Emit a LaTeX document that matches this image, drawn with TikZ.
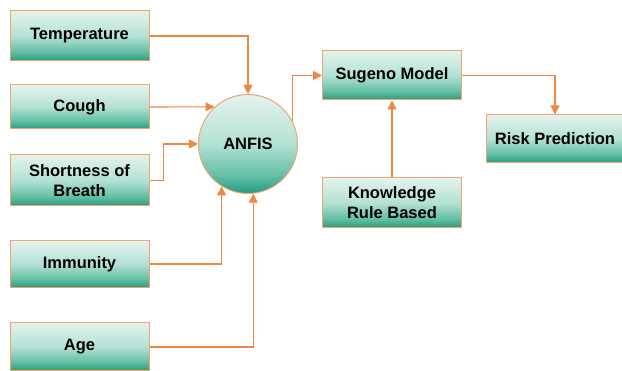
\documentclass[tikz,border=0pt]{standalone}
\usepackage{fontspec}
\setmainfont{Liberation Sans}
\usetikzlibrary{arrows.meta, positioning}

\definecolor{boxedge}{HTML}{F2A470}
\definecolor{flowor}{HTML}{EE8743}
\definecolor{mintL}{HTML}{E4F3EF}
\definecolor{mintM}{HTML}{B3E1D4}
\definecolor{tealM}{HTML}{62BEA5}
\definecolor{tealD}{HTML}{229C7E}
\pgfdeclareverticalshading{mintshade}{100bp}{color(0bp)=(tealD); color(25bp)=(tealD); color(34bp)=(tealM); color(50bp)=(mintM); color(75bp)=(mintL); color(100bp)=(mintL)}

\begin{document}
\begin{tikzpicture}[x = 1pt, y = -1pt,
			> = {Triangle[length=9pt, width=9pt]},
			box/.style = {draw=boxedge, line width=1pt, shading=mintshade, minimum width=139pt, inner sep=0pt, align=center, font=\bfseries\fontsize{16.5}{20}\selectfont},
			flow/.style = {->, draw=flowor, line width=1.1pt}]
			\useasboundingbox (0,0) rectangle (622,371);
			%
			\node[box, minimum height=50pt] (temp) at (79.5,36) {Temperature};
			\node[box, minimum height=44pt] (cough) at (79.5,107) {Cough};
			\node[box, minimum height=51pt] (breath) at (79.5,180.5) {Shortness of\\Breath};
			\node[box, minimum height=47pt] (immun) at (79.5,264) {Immunity};
			\node[box, minimum height=48pt] (age) at (79.5,347) {Age};
			%
			\node[box, circle, minimum width=99pt] (anfis) at (248,144) {ANFIS};
			%
			\node[box, minimum height=49pt] (sugeno) at (392,75.5) {Sugeno Model};
			\node[box, minimum height=50pt] (know) at (392,203) {Knowledge\\Rule Based};
			\node[box, minimum width=138pt, minimum height=48pt] (risk) at (555,139) {Risk Prediction};
			
			\draw[flow] (temp.east) -| (anfis.north);
			\draw[flow] (cough.east) -- (anfis.132);
			\draw[flow] (breath.east) -- ++(14,0) |- (anfis.west);
			\draw[flow] (immun.east) -| (anfis.238);
			\draw[flow] (age.east) -| (anfis.276);
			
			\draw[flow] (anfis.27) |- (sugeno.west);
			\draw[flow] (know) -- (sugeno);
			\draw[flow] (sugeno.east) -| (risk.north);
		\end{tikzpicture}
\end{document}
